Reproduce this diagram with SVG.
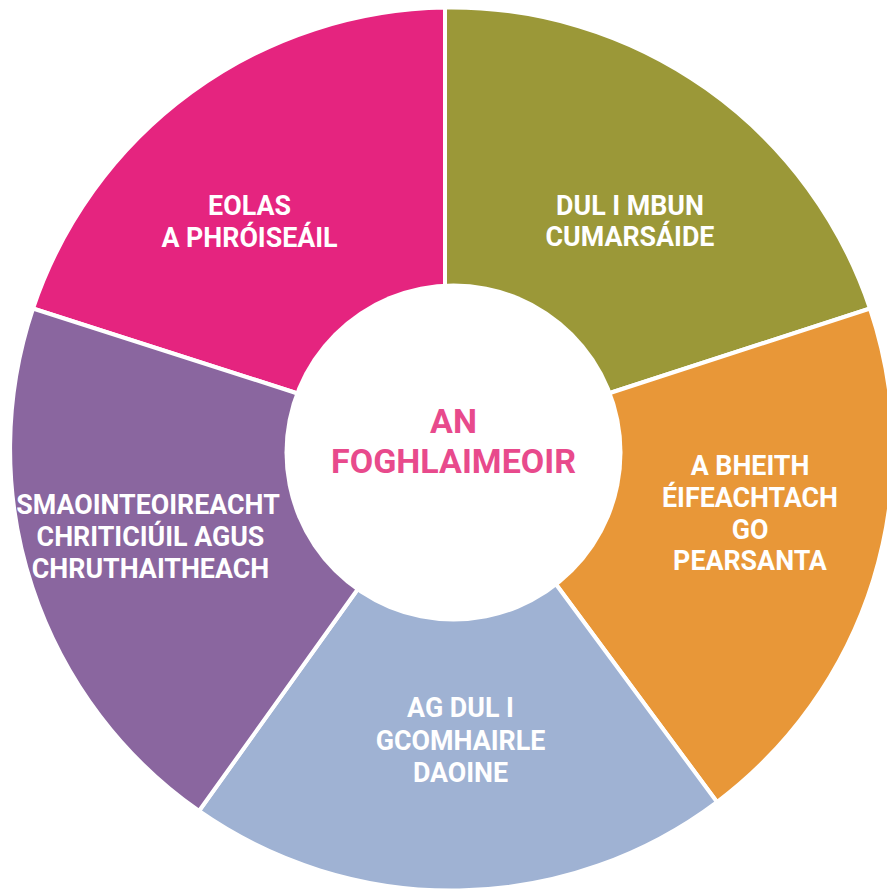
<svg xmlns="http://www.w3.org/2000/svg" width="887" height="890" viewBox="0 0 887 890">
  <style>
    .seg { stroke: #ffffff; stroke-width: 4; stroke-linejoin: miter; }
    .lbl { font-family: Roboto, "Liberation Sans", Arial, sans-serif; font-weight: bold; font-size: 26.8px; fill: #ffffff; text-anchor: middle; }
    .ctr { font-family: Roboto, "Liberation Sans", Arial, sans-serif; font-weight: bold; font-size: 34px; fill: #E84A8C; text-anchor: middle; }
  </style>
  <rect width="887" height="890" fill="#ffffff"/>
  <g id="eolas">
    <path class="seg" fill="#E5247F" d="M 452 448 L 293 392 L 33 308.5 A 441.5 441.5 0 0 1 445 7.5 L 445 283 Z"/>
    <text class="lbl" x="249.5" y="215">EOLAS</text>
    <text class="lbl" x="249.5" y="247">A PHRÓISEÁIL</text>
  </g>
  <g id="cumarsaid">
    <path class="seg" fill="#9B9838" d="M 452 448 L 445 283 L 445 7.5 A 441.5 441.5 0 0 1 870 308.5 L 613 392 Z"/>
    <text class="lbl" x="630" y="215">DUL I MBUN</text>
    <text class="lbl" x="630" y="246">CUMARSÁIDE</text>
  </g>
  <g id="pearsanta">
    <path class="seg" fill="#E89738" d="M 452 448 L 613 392 L 870 308.5 A 441.5 441.5 0 0 1 717 802 L 558 587 Z"/>
    <text class="lbl" x="750" y="475">A BHEITH</text>
    <text class="lbl" x="750" y="507">ÉIFEACHTACH</text>
    <text class="lbl" x="750" y="538.5">GO</text>
    <text class="lbl" x="750" y="570">PEARSANTA</text>
  </g>
  <g id="comhairle">
    <path class="seg" fill="#9FB2D3" d="M 452 448 L 558 587 L 717 802 A 441.5 441.5 0 0 1 199 811 L 355 593 Z"/>
    <text class="lbl" x="460.5" y="717">AG DUL I</text>
    <text class="lbl" x="460.5" y="750">GCOMHAIRLE</text>
    <text class="lbl" x="460.5" y="782">DAOINE</text>
  </g>
  <g id="smaointeoireacht">
    <path class="seg" fill="#8A669F" d="M 452 448 L 355 593 L 199 811 A 441.5 441.5 0 0 1 33 308.5 L 293 392 Z"/>
    <text class="lbl" x="148" y="513.5">SMAOINTEOIREACHT</text>
    <text class="lbl" x="150.5" y="546">CHRITICIÚIL AGUS</text>
    <text class="lbl" x="150.5" y="578">CHRUTHAITHEACH</text>
  </g>
  <g id="foghlaimeoir">
    <circle cx="453.5" cy="452.5" r="169" fill="#ffffff"/>
    <text class="ctr" x="453.5" y="433">AN</text>
    <text class="ctr" x="453.5" y="473">FOGHLAIMEOIR</text>
  </g>
</svg>
